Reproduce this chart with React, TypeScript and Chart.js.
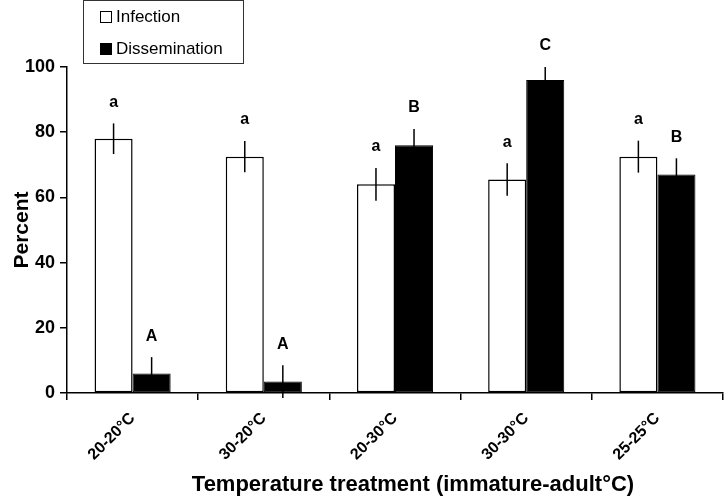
import React, { useEffect, useRef } from "react";
import { Chart, registerables } from "chart.js";

Chart.register(...registerables);

const categories = ["20-20°C", "30-20°C", "20-30°C", "30-30°C", "25-25°C"];
const infection = [78, 72.5, 64, 65.5, 72.5];
const infectionErr = [4.7, 4.8, 5, 5, 4.9];
const dissemination = [6, 3.5, 76, 96, 67];
const disseminationErr = [5, 5, 5, 4, 5];
const infectionLetters = ["a", "a", "a", "a", "a"];
const disseminationLetters = ["A", "A", "B", "C", "B"];
const yTicks = [0, 20, 40, 60, 80, 100];
const xTitle = "Temperature treatment (immature-adult°C)";
const yTitle = "Percent";

const FONT = "'Liberation Sans', Arial, Helvetica, sans-serif";

const annotate = {
  id: "annotate",
  afterDatasetsDraw(chart: any) {
    const ctx = chart.ctx;
    const y = chart.scales.y;
    const errs = [infectionErr, disseminationErr];
    const letters = [infectionLetters, disseminationLetters];
    ctx.save();
    chart.data.datasets.forEach((ds: any, di: number) => {
      const meta = chart.getDatasetMeta(di);
      meta.data.forEach((el: any, i: number) => {
        const v = ds.data[i];
        const e = errs[di][i];
        const yTop = y.getPixelForValue(v + e);
        const yBot = y.getPixelForValue(v - e);
        ctx.strokeStyle = "#000";
        ctx.lineWidth = 1.5;
        ctx.beginPath();
        ctx.moveTo(el.x, yTop);
        ctx.lineTo(el.x, yBot);
        ctx.stroke();
        ctx.fillStyle = "#000";
        ctx.font = `bold 16px ${FONT}`;
        ctx.textAlign = "center";
        ctx.textBaseline = "middle";
        ctx.fillText(letters[di][i], el.x, yTop - 21);
      });
    });
    ctx.restore();
  },
  afterDraw(chart: any) {
    const ctx = chart.ctx;
    const area = chart.chartArea;
    ctx.save();
    // legend
    ctx.strokeStyle = "#333";
    ctx.lineWidth = 1;
    ctx.strokeRect(83.5, 0.5, 160, 63);
    ctx.fillStyle = "#fff";
    ctx.strokeStyle = "#000";
    ctx.fillRect(100.5, 11.5, 11, 11);
    ctx.strokeRect(100.5, 11.5, 11, 11);
    ctx.fillStyle = "#000";
    ctx.fillRect(100, 43, 12, 12);
    ctx.font = `17px ${FONT}`;
    ctx.textAlign = "left";
    ctx.textBaseline = "middle";
    ctx.fillText(chart.data.datasets[0].label, 116, 17);
    ctx.fillText(chart.data.datasets[1].label, 116, 49);
    // axis titles
    ctx.font = `bold 22px ${FONT}`;
    ctx.textAlign = "center";
    ctx.fillText(xTitle, 413, 485);
    ctx.translate(22, (area.top + area.bottom) / 2);
    ctx.rotate(-Math.PI / 2);
    ctx.font = `bold 21px ${FONT}`;
    ctx.fillText(yTitle, 0, 0);
    ctx.restore();
  },
};

export default function App() {
  const ref = useRef<HTMLCanvasElement>(null);
  useEffect(() => {
    const chart = new Chart(ref.current!, {
      type: "bar",
      data: {
        labels: categories,
        datasets: [
          {
            label: "Infection",
            data: infection,
            backgroundColor: "#fff",
            borderColor: "#000",
            borderWidth: 1.5,
            borderSkipped: false,
          },
          {
            label: "Dissemination",
            data: dissemination,
            backgroundColor: "#000",
            borderColor: "#000",
            borderWidth: 1,
            borderSkipped: false,
          },
        ],
      },
      options: {
        animation: false,
        responsive: false,
        maintainAspectRatio: false,
        layout: { padding: { top: 67, right: 2, left: 0, bottom: 0 } },
        plugins: { legend: { display: false }, tooltip: { enabled: false } },
        datasets: { bar: { categoryPercentage: 0.58, barPercentage: 1 } },
        scales: {
          x: {
            grid: {
              drawOnChartArea: false,
              drawTicks: true,
              tickLength: 7,
              color: "#000",
              lineWidth: 1.5,
              offset: true,
            },
            border: { color: "#000", width: 1.5 },
            ticks: {
              color: "#000",
              font: { family: FONT, size: 16, weight: "bold" },
              maxRotation: 45,
              minRotation: 45,
              padding: 9,
            },
            afterFit: (s: any) => {
              s.height = 106;
            },
          },
          y: {
            min: 0,
            max: 100,
            afterBuildTicks: (s: any) => {
              s.ticks = yTicks.map((v) => ({ value: v }));
            },
            grid: {
              drawOnChartArea: false,
              drawTicks: true,
              tickLength: 7,
              color: "#000",
              lineWidth: 1.5,
            },
            border: { color: "#000", width: 1.5 },
            ticks: {
              color: "#000",
              font: { family: FONT, size: 18, weight: "bold" },
              padding: 5,
            },
            afterFit: (s: any) => {
              s.width = 67;
            },
          },
        },
      },
      plugins: [annotate],
    });
    return () => chart.destroy();
  }, []);
  return (
    <div style={{ position: "fixed", left: 0, top: 0, width: 725, height: 499, background: "#fff" }}>
      <canvas ref={ref} width={725} height={499} style={{ width: 725, height: 499 }} />
    </div>
  );
}
